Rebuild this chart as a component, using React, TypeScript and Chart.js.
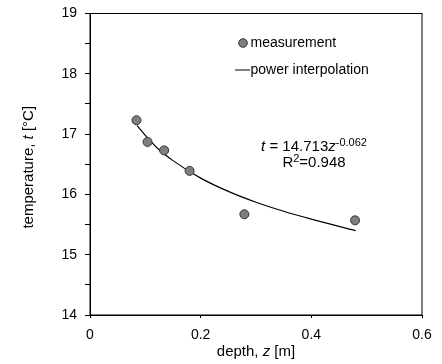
import React, { useEffect, useRef } from 'react';
import { Chart, registerables } from 'chart.js';

Chart.register(...registerables);

// measured data
const depth = [0.084, 0.104, 0.134, 0.18, 0.279, 0.479];
const temperature = [17.23, 16.87, 16.73, 16.39, 15.67, 15.57];

// power interpolation curve
const fitDepth = [0.085, 0.1, 0.125, 0.15, 0.2, 0.25, 0.3, 0.35, 0.4, 0.48];
const fitTemperature = [17.14, 16.98, 16.74, 16.56, 16.27, 16.05, 15.87, 15.72, 15.59, 15.4];

const xTicks = [0, 0.2, 0.4, 0.6];
const yTicks = [14, 15, 16, 17, 18, 19];

const legendLabels = ['measurement', 'power interpolation'];
const equationMain = 't = 14.713z';
const equationExp = '-0.062';
const rSquared = '0.948';

const FONT = '"Liberation Sans", Arial, sans-serif';

type Seg = { text: string; italic?: boolean; sup?: boolean };

function drawSegs(ctx: CanvasRenderingContext2D, segs: Seg[], cx: number, cy: number, size: number) {
  const fontFor = (s: Seg) => `${s.italic ? 'italic ' : ''}${s.sup ? Math.round(size * 0.7) : size}px ${FONT}`;
  let total = 0;
  for (const s of segs) {
    ctx.font = fontFor(s);
    total += ctx.measureText(s.text).width;
  }
  let x = cx - total / 2;
  ctx.textAlign = 'left';
  ctx.textBaseline = 'middle';
  for (const s of segs) {
    ctx.font = fontFor(s);
    ctx.fillText(s.text, x, s.sup ? cy - size * 0.3 : cy);
    x += ctx.measureText(s.text).width;
  }
}

const decorPlugin = {
  id: 'decor',
  afterDraw(chart: any) {
    const ctx: CanvasRenderingContext2D = chart.ctx;
    const a = chart.chartArea;
    const xs = chart.scales.x;
    const ys = chart.scales.y;
    ctx.save();
    // frame
    ctx.strokeStyle = '#000';
    ctx.lineWidth = 1;
    ctx.strokeRect(a.left, a.top, a.right - a.left, a.bottom - a.top);

    ctx.fillStyle = '#000';
    // legend
    const lx = 243;
    const ly1 = 43;
    const ly2 = 70;
    ctx.beginPath();
    ctx.arc(lx, ly1, 4.3, 0, Math.PI * 2);
    ctx.fillStyle = '#7f7f7f';
    ctx.fill();
    ctx.strokeStyle = '#333';
    ctx.stroke();
    ctx.beginPath();
    ctx.moveTo(235, ly2);
    ctx.lineTo(250, ly2);
    ctx.strokeStyle = '#000';
    ctx.stroke();
    ctx.fillStyle = '#000';
    ctx.font = `14px ${FONT}`;
    ctx.textAlign = 'left';
    ctx.textBaseline = 'middle';
    ctx.fillText(legendLabels[0], 250.5, ly1);
    ctx.fillText(legendLabels[1], 250.5, ly2);

    // equation
    const ex = 314;
    drawSegs(ctx, [
      { text: 't', italic: true },
      { text: equationMain.slice(1, -1) },
      { text: 'z', italic: true },
      { text: equationExp, sup: true },
    ], ex, 147, 15);
    drawSegs(ctx, [
      { text: 'R' },
      { text: '2', sup: true },
      { text: '=' + rSquared },
    ], ex, 163, 15);

    // axis titles
    const xc = (xs.left + xs.right) / 2;
    drawSegs(ctx, [
      { text: 'depth, ' },
      { text: 'z', italic: true },
      { text: ' [m]' },
    ], xc, 352, 15);
    ctx.save();
    ctx.translate(29, (ys.top + ys.bottom) / 2 + 3);
    ctx.rotate(-Math.PI / 2);
    drawSegs(ctx, [
      { text: 'temperature, ' },
      { text: 't', italic: true },
      { text: ' [°C]' },
    ], 0, 0, 15);
    ctx.restore();
    ctx.restore();
  },
};

export default function App() {
  const ref = useRef<HTMLCanvasElement | null>(null);
  useEffect(() => {
    if (!ref.current) return;
    const chart = new Chart(ref.current, {
      type: 'scatter',
      data: {
        datasets: [
          {
            label: legendLabels[1],
            data: fitDepth.map((x, i) => ({ x, y: fitTemperature[i] })),
            showLine: true,
            borderColor: '#000',
            borderWidth: 1.2,
            pointRadius: 0,
            cubicInterpolationMode: 'monotone',
            order: 2,
          } as any,
          {
            label: legendLabels[0],
            data: depth.map((x, i) => ({ x, y: temperature[i] })),
            backgroundColor: '#7f7f7f',
            borderColor: '#333',
            borderWidth: 1,
            pointRadius: 4.5,
            order: 1,
          },
        ],
      },
      options: {
        responsive: false,
        animation: false,
        devicePixelRatio: 1,
        layout: { padding: { top: 13.5, right: 20, left: 0, bottom: 0 } },
        plugins: { legend: { display: false }, tooltip: { enabled: false } },
        scales: {
          x: {
            type: 'linear',
            min: xTicks[0],
            max: xTicks[xTicks.length - 1],
            afterFit: (s: any) => {
              s.height = 49;
              s.paddingLeft = 0;
              s.paddingRight = 0;
            },
            afterBuildTicks: (s: any) => { s.ticks = xTicks.map((v) => ({ value: v })); },
            ticks: {
              autoSkip: false,
              maxRotation: 0,
              padding: 9,
              color: '#000',
              font: { size: 14, family: FONT },
              callback: (v: any) => (Number(v) === 0 ? '0' : Number(v).toFixed(1)),
            },
            grid: { drawOnChartArea: false, drawTicks: true, tickLength: 3, color: '#000' },
            border: { color: '#000', width: 1 },
          },
          y: {
            type: 'linear',
            min: yTicks[0],
            max: yTicks[yTicks.length - 1],
            afterFit: (s: any) => {
              s.width = 90;
              s.paddingTop = 0;
              s.paddingBottom = 0;
            },
            afterBuildTicks: (s: any) => {
              const t: any[] = [];
              for (let i = 0; i < yTicks.length; i++) {
                t.push({ value: yTicks[i] });
                if (i < yTicks.length - 1) t.push({ value: yTicks[i] + 0.5 });
              }
              s.ticks = t;
            },
            ticks: {
              autoSkip: false,
              padding: 8,
              color: '#000',
              font: { size: 14, family: FONT },
              callback: (v: any) => (Number.isInteger(Number(v)) ? String(v) : ''),
            },
            grid: { drawOnChartArea: false, drawTicks: true, tickLength: 5, color: '#000' },
            border: { color: '#000', width: 1 },
          },
        },
      },
      plugins: [decorPlugin],
    } as any);
    return () => chart.destroy();
  }, []);
  return (
    <div style={{ position: 'absolute', left: 0, top: 0, width: 442, height: 364, background: '#fff' }}>
      <canvas ref={ref} width={442} height={364} style={{ display: 'block' }} />
    </div>
  );
}
